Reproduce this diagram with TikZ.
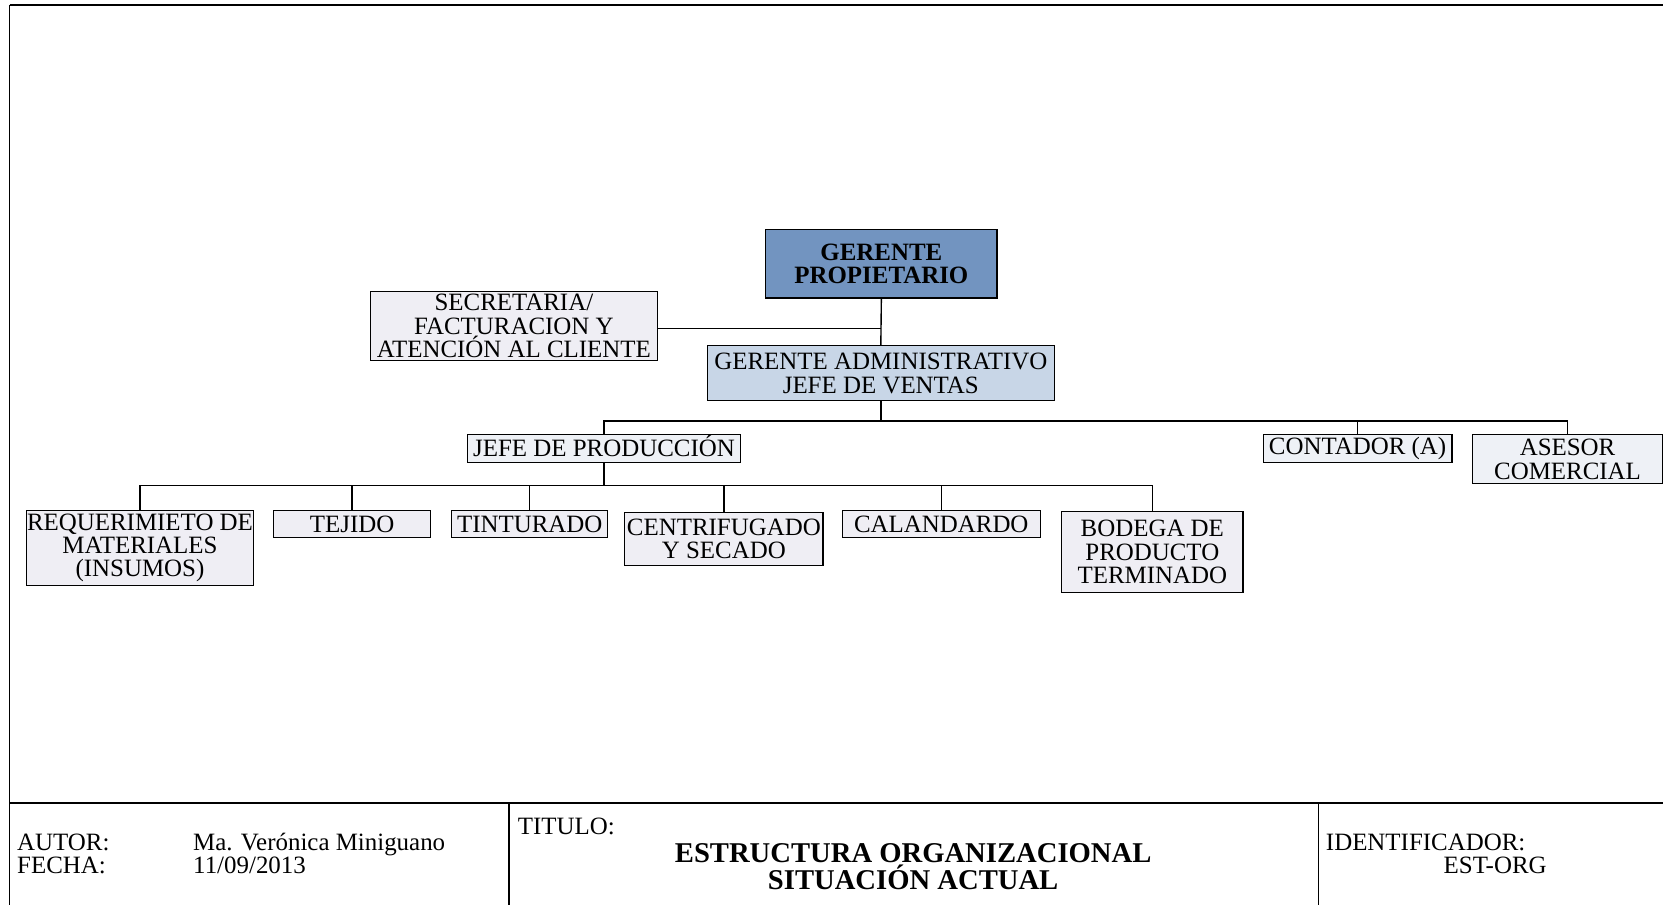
\documentclass[tikz,border=0pt]{standalone}
\usepackage{fontspec}
\setmainfont{Liberation Serif}
\definecolor{topblue}{RGB}{114,148,192}
\definecolor{midblue}{RGB}{200,214,231}
\definecolor{lavgray}{RGB}{239,238,244}
\definecolor{palegray}{RGB}{238,241,246}
\tikzset{
  unit/.style={draw=black, line width=1.1pt, inner sep=0pt, align=center,
    font=\fontsize{23.5}{22}\selectfont},
  chief/.style={unit, fill=topblue, font=\fontsize{23.5}{22}\selectfont\bfseries},
  admin/.style={unit, fill=midblue},
  staff/.style={unit, fill=lavgray},
  aide/.style={unit, fill=palegray},
  link/.style={draw=black, line width=1.3pt},
  frame/.style={draw=black, line width=1.4pt},
  foot/.style={inner sep=0pt, anchor=base west, font=\fontsize{23.5}{22}\selectfont},
  heading/.style={inner sep=0pt, anchor=base, font=\fontsize{27}{27}\selectfont\bfseries}
}
\begin{document}
\begin{tikzpicture}[x=1pt, y=-1pt]
\useasboundingbox (0,0) rectangle (1568,853);

% sheet frame and title block
\draw[frame, line width=2pt] (9,5) -- (1568,5);
\draw[frame] (9,5) -- (9,853);
\draw[frame] (9,757) -- (1568,757);
\draw[frame] (480,757) -- (480,853);
\draw[frame] (1243,757) -- (1243,853);

% organisation chart units
\node[chief, minimum width=218, minimum height=65] (gp) at (831,248.5) {GERENTE\\PROPIETARIO};
\node[staff, minimum width=271, minimum height=65] (sec) at (484.5,307.5) {SECRETARIA/\\FACTURACION Y\\ATENCIÓN AL CLIENTE};
\node[admin, minimum width=327, minimum height=52] (ga) at (830.5,352) {GERENTE ADMINISTRATIVO\\JEFE DE VENTAS};
\node[aide, minimum width=257, minimum height=26] (jefe) at (569.5,423) {JEFE DE PRODUCCI\smash{Ó}N};
\node[aide, minimum width=178, minimum height=26] (cont) at (1280,423) {CONTADOR (A)};
\node[aide, minimum width=180, minimum height=46] (ases) at (1478,433) {ASESOR\\COMERCIAL};
\node[staff, minimum width=214, minimum height=71] (req) at (132,516.5) {REQUERIMIETO DE\\MATERIALES\\(INSUMOS)};
\node[staff, minimum width=148, minimum height=26] (tej) at (332,494) {TEJIDO};
\node[staff, minimum width=147, minimum height=26] (tint) at (499.5,494) {TINTURADO};
\node[staff, minimum width=187, minimum height=50] (cent) at (682.5,508) {CENTRIFUGADO\\Y SECADO};
\node[staff, minimum width=187, minimum height=26] (cal) at (887.5,494) {CALANDARDO};
\node[staff, minimum width=171, minimum height=77] (bod) at (1086.5,520.5) {BODEGA DE\\PRODUCTO\\TERMINADO};

% reporting lines
\coordinate (secjoin) at (831,310);
\coordinate (busA) at (0,397);
\coordinate (busB) at (0,458);
\draw[link] (gp.south) -- (ga.north);
\draw[link] (sec.east |- secjoin) -- (secjoin);
\draw[link] (ga.south) -- (ga.south |- busA);
\draw[link] (jefe.north) -- (jefe.north |- busA) -- (ases.north |- busA) -- (ases.north);
\draw[link] (cont.north |- busA) -- (cont.north);
\draw[link] (jefe.south) -- (jefe.south |- busB);
\draw[link] (req.north) -- (req.north |- busB) -- (bod.north |- busB) -- (bod.north);
\draw[link] (tej.north |- busB) -- (tej.north);
\draw[link] (tint.north |- busB) -- (tint.north);
\draw[link] (cent.north |- busB) -- (cent.north);
\draw[link] (cal.north |- busB) -- (cal.north);

% title block texts
\node[foot] (autor) at (16,802) {AUTOR:};
\node[foot] (fecha) at (16,824) {FECHA:};
\node[foot] (nombre) at (182,802) {Ma. Verónica Miniguano};
\node[foot] (dia) at (182,824) {11/09/2013};
\node[foot] (titulo) at (488,787) {TITULO:};
\node[heading] (t1) at (861,813.5) {ESTRUCTURA ORGANIZACIONAL};
\node[heading] (t2) at (861,838.5) {SITUACIÓN ACTUAL};
\node[foot] (ident) at (1250,802) {IDENTIFICADOR:};
\node[foot] (code) at (1361,824) {EST-ORG};
\end{tikzpicture}
\end{document}
